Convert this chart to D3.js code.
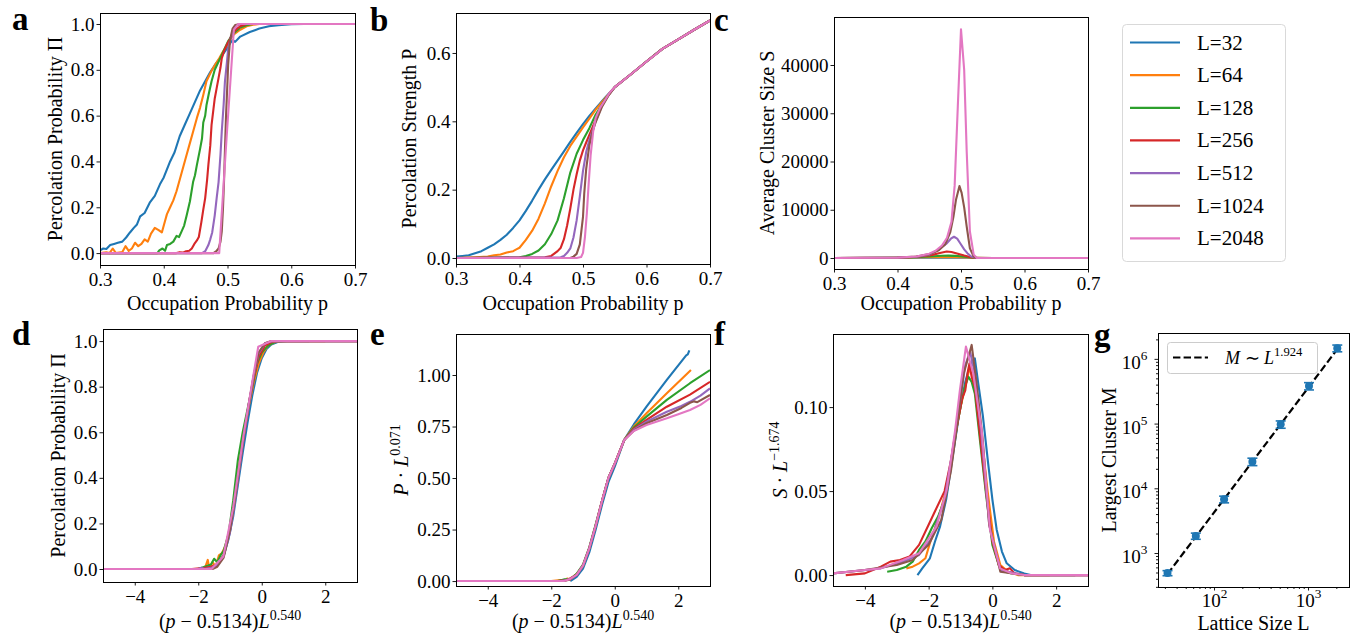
<!DOCTYPE html>
<html>
<head>
<meta charset="utf-8">
<script src="https://cdn.jsdelivr.net/npm/d3@7"></script>
<style>
  body { margin: 0; background: #fff; }
  svg { display: block; }
</style>
</head>
<body>
<svg id="fig" width="1353" height="637"></svg>
<script>
// ---------- series metadata ----------
const sizes = [32, 64, 128, 256, 512, 1024, 2048];
const colors = ["#1f77b4", "#ff7f0e", "#2ca02c", "#d62728", "#9467bd", "#8c564b", "#e377c2"];

// ---------- tick values ----------
const pTicks = [0.3, 0.4, 0.5, 0.6, 0.7];
const probTicks = [0, 0.2, 0.4, 0.6, 0.8, 1.0];
const strengthTicks = [0, 0.2, 0.4, 0.6];
const clusterTicks = [0, 10000, 20000, 30000, 40000];
const scaledXTicks = [-4, -2, 0, 2];
const scaledPTicks = [0, 0.25, 0.5, 0.75, 1.0];
const scaledSTicks = [0, 0.05, 0.10];
const latticeTicks = [100, 1000];
const largestTicks = [1e3, 1e4, 1e5, 1e6];

// ---------- (a) percolation probability Π(p) ----------
const percProb = [
  [[0.30,0.012],[0.305,0.02],[0.31,0.018],[0.316,0.035],[0.322,0.04],[0.328,0.045],[0.335,0.05],[0.341,0.068],[0.347,0.09],[0.353,0.11],[0.358,0.125],[0.363,0.16],[0.37,0.175],[0.378,0.22],[0.386,0.25],[0.394,0.3],[0.40,0.33],[0.41,0.4],[0.417,0.44],[0.425,0.51],[0.433,0.56],[0.441,0.61],[0.449,0.66],[0.457,0.71],[0.465,0.75],[0.473,0.79],[0.48,0.82],[0.488,0.85],[0.496,0.88],[0.504,0.915],[0.508,0.93],[0.512,0.922],[0.52,0.945],[0.535,0.965],[0.55,0.98],[0.565,0.99],[0.58,0.995],[0.6,0.999],[0.62,1.0],[0.7,1.0]],
  [[0.30,0.0],[0.31,0.003],[0.315,0.0],[0.32,0.02],[0.325,0.0],[0.335,0.005],[0.34,0.03],[0.345,0.01],[0.35,0.02],[0.355,0.045],[0.36,0.03],[0.365,0.04],[0.37,0.06],[0.375,0.05],[0.38,0.085],[0.386,0.11],[0.392,0.1],[0.397,0.09],[0.402,0.14],[0.405,0.17],[0.41,0.2],[0.415,0.23],[0.42,0.27],[0.426,0.33],[0.431,0.38],[0.436,0.43],[0.441,0.48],[0.446,0.53],[0.452,0.59],[0.457,0.635],[0.462,0.69],[0.467,0.75],[0.474,0.79],[0.48,0.82],[0.487,0.85],[0.493,0.88],[0.5,0.91],[0.505,0.935],[0.51,0.955],[0.52,0.975],[0.53,0.99],[0.54,0.997],[0.55,1.0],[0.7,1.0]],
  [[0.30,0.0],[0.39,0.0],[0.393,0.012],[0.398,0.02],[0.402,0.01],[0.405,0.035],[0.41,0.04],[0.415,0.05],[0.42,0.075],[0.424,0.07],[0.428,0.095],[0.432,0.12],[0.436,0.165],[0.441,0.225],[0.446,0.31],[0.449,0.34],[0.452,0.385],[0.457,0.455],[0.46,0.5],[0.462,0.57],[0.465,0.6],[0.467,0.645],[0.471,0.7],[0.475,0.75],[0.48,0.8],[0.485,0.83],[0.491,0.865],[0.496,0.895],[0.501,0.925],[0.51,0.96],[0.52,0.985],[0.53,0.995],[0.54,1.0],[0.7,1.0]],
  [[0.30,0.0],[0.42,0.0],[0.425,0.004],[0.43,0.002],[0.435,0.008],[0.44,0.01],[0.444,0.02],[0.448,0.04],[0.452,0.055],[0.455,0.07],[0.459,0.135],[0.462,0.19],[0.465,0.24],[0.468,0.32],[0.47,0.385],[0.473,0.47],[0.475,0.56],[0.478,0.63],[0.48,0.675],[0.483,0.72],[0.486,0.765],[0.489,0.81],[0.491,0.85],[0.495,0.885],[0.499,0.91],[0.505,0.94],[0.51,0.965],[0.515,0.98],[0.52,0.99],[0.53,1.0],[0.7,1.0]],
  [[0.30,0.0],[0.46,0.0],[0.465,0.008],[0.47,0.035],[0.473,0.06],[0.476,0.09],[0.48,0.165],[0.483,0.24],[0.486,0.31],[0.489,0.43],[0.491,0.53],[0.494,0.65],[0.496,0.75],[0.499,0.83],[0.501,0.89],[0.505,0.94],[0.51,0.975],[0.515,0.995],[0.52,1.0],[0.7,1.0]],
  [[0.30,0.0],[0.478,0.0],[0.483,0.01],[0.486,0.02],[0.489,0.05],[0.491,0.095],[0.493,0.2],[0.4945,0.31],[0.496,0.45],[0.4977,0.6],[0.5,0.75],[0.501,0.82],[0.504,0.93],[0.508,0.98],[0.512,0.995],[0.52,1.0],[0.7,1.0]],
  [[0.30,0.0],[0.48,0.0],[0.487,0.0],[0.4985,0.5],[0.51,0.975],[0.517,1.0],[0.7,1.0]]
];

// ---------- (b) percolation strength P(p) ----------
const percStrength = [
  [[0.30,0.004],[0.31,0.006],[0.32,0.008],[0.33,0.014],[0.34,0.02],[0.35,0.03],[0.36,0.04],[0.37,0.053],[0.38,0.068],[0.39,0.088],[0.40,0.11],[0.41,0.138],[0.42,0.168],[0.43,0.2],[0.44,0.23],[0.45,0.258],[0.46,0.285],[0.47,0.312],[0.48,0.34],[0.49,0.366],[0.50,0.392],[0.51,0.416],[0.52,0.438],[0.535,0.47],[0.55,0.5],[0.575,0.537],[0.6,0.575],[0.625,0.612],[0.65,0.64],[0.675,0.668],[0.7,0.695]],
  [[0.30,0.0],[0.33,0.002],[0.35,0.004],[0.36,0.008],[0.37,0.01],[0.38,0.016],[0.39,0.02],[0.395,0.025],[0.40,0.03],[0.41,0.053],[0.42,0.08],[0.43,0.115],[0.44,0.16],[0.45,0.21],[0.46,0.255],[0.47,0.295],[0.48,0.328],[0.49,0.355],[0.50,0.382],[0.51,0.408],[0.52,0.434],[0.535,0.468],[0.55,0.5],[0.575,0.537],[0.6,0.575],[0.625,0.612],[0.65,0.64],[0.675,0.668],[0.7,0.695]],
  [[0.30,0.0],[0.40,0.002],[0.41,0.006],[0.42,0.012],[0.43,0.022],[0.44,0.04],[0.45,0.07],[0.46,0.11],[0.47,0.175],[0.48,0.25],[0.49,0.305],[0.50,0.345],[0.51,0.38],[0.52,0.42],[0.535,0.465],[0.55,0.5],[0.575,0.537],[0.6,0.575],[0.625,0.612],[0.65,0.64],[0.675,0.668],[0.7,0.695]],
  [[0.30,0.0],[0.44,0.002],[0.45,0.006],[0.46,0.02],[0.465,0.03],[0.47,0.055],[0.475,0.095],[0.48,0.145],[0.485,0.2],[0.49,0.245],[0.495,0.285],[0.50,0.315],[0.505,0.338],[0.51,0.36],[0.52,0.405],[0.53,0.448],[0.54,0.477],[0.55,0.5],[0.575,0.537],[0.6,0.575],[0.625,0.612],[0.65,0.64],[0.675,0.668],[0.7,0.695]],
  [[0.30,0.0],[0.465,0.002],[0.47,0.006],[0.475,0.015],[0.48,0.028],[0.485,0.06],[0.49,0.11],[0.495,0.18],[0.50,0.255],[0.505,0.31],[0.51,0.345],[0.52,0.4],[0.53,0.447],[0.54,0.477],[0.55,0.5],[0.575,0.537],[0.6,0.575],[0.625,0.612],[0.65,0.64],[0.675,0.668],[0.7,0.695]],
  [[0.30,0.0],[0.48,0.0],[0.485,0.004],[0.49,0.012],[0.495,0.04],[0.50,0.12],[0.502,0.19],[0.505,0.26],[0.51,0.33],[0.515,0.37],[0.52,0.398],[0.53,0.443],[0.54,0.475],[0.55,0.5],[0.575,0.537],[0.6,0.575],[0.625,0.612],[0.65,0.64],[0.675,0.668],[0.7,0.695]],
  [[0.30,0.0],[0.49,0.0],[0.497,0.003],[0.5,0.015],[0.503,0.06],[0.506,0.13],[0.509,0.22],[0.512,0.3],[0.516,0.37],[0.52,0.41],[0.527,0.44],[0.535,0.463],[0.5425,0.485],[0.55,0.5],[0.575,0.537],[0.6,0.575],[0.612,0.592],[0.625,0.612],[0.65,0.64],[0.675,0.668],[0.7,0.695]]
];

// ---------- (c) average cluster size S(p) ----------
const avgCluster = [
  [[0.3,0],[0.35,10],[0.4,40],[0.43,60],[0.46,80],[0.49,80],[0.52,40],[0.55,10],[0.6,0],[0.7,0]],
  [[0.3,0],[0.38,30],[0.42,90],[0.45,160],[0.47,200],[0.49,170],[0.51,90],[0.53,20],[0.55,0],[0.7,0]],
  [[0.3,0],[0.4,50],[0.43,150],[0.45,300],[0.47,480],[0.48,500],[0.49,450],[0.505,280],[0.52,60],[0.53,0],[0.7,0]],
  [[0.3,0],[0.4,60],[0.42,150],[0.44,350],[0.455,650],[0.465,1000],[0.4775,1350],[0.485,1250],[0.495,900],[0.505,500],[0.515,150],[0.525,0],[0.7,0]],
  [[0.3,0],[0.4,70],[0.43,250],[0.45,700],[0.462,1500],[0.47,2300],[0.478,3100],[0.484,4000],[0.489,4400],[0.494,4000],[0.499,3000],[0.505,1800],[0.51,1000],[0.516,300],[0.525,0],[0.7,0]],
  [[0.3,0],[0.4,80],[0.43,300],[0.45,800],[0.465,1600],[0.475,2800],[0.483,5300],[0.488,8500],[0.492,12000],[0.4976,14900],[0.501,13500],[0.505,10500],[0.509,6500],[0.514,2000],[0.52,300],[0.525,0],[0.7,0]],
  [[0.3,0],[0.4,80],[0.43,300],[0.45,900],[0.46,1500],[0.47,2600],[0.478,4200],[0.485,7500],[0.49,15000],[0.495,31500],[0.5,47400],[0.505,39000],[0.509,22000],[0.514,5500],[0.52,700],[0.525,0],[0.7,0]]
];

// ---------- (d) collapsed Π ----------
const collapseProb = [
  [[-2.0,0],[-1.6,0.002],[-1.5,0.01],[-1.35,0.03],[-1.2,0.06],[-1.05,0.13],[-0.9,0.23],[-0.75,0.37],[-0.6,0.51],[-0.45,0.64],[-0.3,0.76],[-0.15,0.86],[0,0.925],[0.15,0.965],[0.3,0.985],[0.5,0.996],[0.7,1.0],[1.5,1.0]],
  [[-2.0,0],[-1.8,0.0],[-1.7,0.04],[-1.65,0.0],[-1.55,0.03],[-1.45,0.01],[-1.35,0.06],[-1.25,0.07],[-1.15,0.1],[-1.0,0.18],[-0.85,0.33],[-0.7,0.47],[-0.55,0.6],[-0.4,0.72],[-0.25,0.82],[-0.1,0.9],[0.05,0.95],[0.2,0.98],[0.4,0.995],[0.6,1.0],[2.0,1.0]],
  [[-3.0,0],[-2.0,0.0],[-1.8,0.01],[-1.6,0.02],[-1.5,0.045],[-1.4,0.03],[-1.3,0.06],[-1.2,0.08],[-1.05,0.15],[-0.9,0.3],[-0.75,0.48],[-0.6,0.6],[-0.45,0.7],[-0.3,0.8],[-0.15,0.9],[0,0.95],[0.2,0.98],[0.4,0.995],[0.8,1.0],[3,1.0]],
  [[-4.0,0],[-2.2,0],[-1.8,0.005],[-1.6,0.01],[-1.4,0.02],[-1.2,0.06],[-1.0,0.17],[-0.85,0.3],[-0.7,0.45],[-0.55,0.6],[-0.4,0.73],[-0.25,0.84],[-0.1,0.93],[0.1,0.98],[0.3,0.995],[0.6,1.0],[3,1.0]],
  [[-5,0],[-2.0,0],[-1.9,0.006],[-1.8,0.0],[-1.6,0.005],[-1.4,0.015],[-1.2,0.055],[-1.0,0.16],[-0.85,0.29],[-0.7,0.44],[-0.55,0.6],[-0.4,0.73],[-0.25,0.85],[-0.1,0.945],[0.1,0.99],[0.35,1.0],[3,1.0]],
  [[-5,0],[-1.55,0],[-1.4,0.01],[-1.2,0.05],[-1.0,0.17],[-0.85,0.3],[-0.7,0.45],[-0.55,0.6],[-0.4,0.73],[-0.25,0.85],[-0.1,0.95],[0.1,0.99],[0.3,1.0],[3,1.0]],
  [[-5,0],[-1.58,0],[-1.21,0.055],[-0.9,0.27],[-0.58,0.58],[-0.27,0.845],[-0.11,0.975],[0.3,1.0],[3,1.0]]
];

// ---------- (e) collapsed P ----------
const collapseStrength = [
  [[-1.4,0],[-1.2,0.02],[-1.0,0.06],[-0.8,0.14],[-0.6,0.25],[-0.4,0.37],[-0.2,0.48],[0,0.555],[0.3,0.685],[0.6,0.76],[1.0,0.846],[1.64,0.976],[2.25,1.095],[2.3,1.1],[2.35,1.12]],
  [[-2.0,0],[-1.7,0.005],[-1.6,0.0],[-1.5,0.012],[-1.4,0.008],[-1.2,0.035],[-1.0,0.075],[-0.8,0.16],[-0.6,0.27],[-0.4,0.39],[-0.2,0.5],[0,0.57],[0.3,0.685],[0.6,0.75],[1.0,0.814],[1.64,0.911],[2.40,1.024]],
  [[-3.0,0],[-1.8,0.0],[-1.6,0.008],[-1.4,0.01],[-1.2,0.035],[-1.0,0.08],[-0.8,0.165],[-0.6,0.275],[-0.4,0.39],[-0.2,0.5],[0,0.57],[0.3,0.685],[0.6,0.745],[1.0,0.798],[1.64,0.879],[2.37,0.96],[3.0,1.024]],
  [[-4.5,0],[-1.8,0.0],[-1.5,0.005],[-1.2,0.03],[-1.0,0.075],[-0.8,0.16],[-0.6,0.27],[-0.4,0.39],[-0.2,0.5],[0,0.57],[0.3,0.685],[0.6,0.74],[1.0,0.782],[1.64,0.846],[2.37,0.905],[3.0,0.967]],
  [[-5,0],[-1.7,0],[-1.4,0.008],[-1.2,0.03],[-1.0,0.075],[-0.8,0.16],[-0.6,0.27],[-0.4,0.39],[-0.2,0.5],[0,0.57],[0.3,0.685],[0.6,0.735],[1.0,0.774],[1.64,0.822],[2.1,0.85],[2.37,0.87],[2.7,0.9],[3.0,0.935]],
  [[-5,0],[-1.6,0],[-1.4,0.008],[-1.2,0.03],[-1.0,0.075],[-0.8,0.16],[-0.6,0.27],[-0.4,0.39],[-0.2,0.5],[0,0.57],[0.3,0.685],[0.6,0.73],[1.0,0.766],[1.64,0.806],[2.1,0.84],[2.37,0.865],[2.5,0.872],[2.6,0.868],[3.0,0.903]],
  [[-5,0],[-1.6,0],[-1.4,0.01],[-1.2,0.03],[-1.0,0.075],[-0.8,0.16],[-0.6,0.27],[-0.4,0.39],[-0.2,0.5],[0,0.57],[0.3,0.685],[0.6,0.728],[1.0,0.757],[1.64,0.79],[2.0,0.81],[2.37,0.83],[2.7,0.855],[3.0,0.887]]
];

// ---------- (f) collapsed S ----------
const collapseCluster = [
  [[-2.35,0.0],[-2.2,0.004],[-1.96,0.01],[-1.8,0.02],[-1.64,0.029],[-1.45,0.045],[-1.25,0.07],[-1.05,0.095],[-0.85,0.115],[-0.7,0.125],[-0.55,0.129],[-0.45,0.115],[-0.3,0.095],[-0.13,0.066],[0.0,0.045],[0.135,0.027],[0.3,0.014],[0.45,0.007],[0.7,0.003],[1.0,0.001],[1.2,0]],
  [[-2.7,0.004],[-2.5,0.005],[-2.3,0.007],[-2.1,0.01],[-1.96,0.019],[-1.8,0.028],[-1.6,0.04],[-1.4,0.055],[-1.2,0.08],[-1.0,0.1],[-0.85,0.112],[-0.72,0.123],[-0.62,0.118],[-0.5,0.106],[-0.35,0.085],[-0.15,0.05],[0.05,0.02],[0.25,0.006],[0.5,0.002],[0.8,0],[1.8,0]],
  [[-3.3,0.002],[-3.0,0.003],[-2.7,0.005],[-2.5,0.008],[-2.3,0.015],[-2.1,0.02],[-1.9,0.028],[-1.7,0.035],[-1.5,0.045],[-1.3,0.065],[-1.1,0.09],[-0.95,0.105],[-0.85,0.113],[-0.75,0.118],[-0.65,0.115],[-0.55,0.108],[-0.4,0.082],[-0.2,0.048],[0,0.018],[0.2,0.006],[0.4,0.002],[0.6,0.001],[1,0],[2.6,0]],
  [[-4.6,0.0],[-4.0,0.001],[-3.5,0.005],[-3.2,0.008],[-2.9,0.009],[-2.6,0.011],[-2.3,0.018],[-2.0,0.03],[-1.8,0.038],[-1.5,0.05],[-1.3,0.068],[-1.1,0.09],[-0.95,0.105],[-0.85,0.11],[-0.78,0.12],[-0.72,0.126],[-0.65,0.118],[-0.55,0.112],[-0.4,0.085],[-0.2,0.05],[0,0.02],[0.2,0.006],[0.4,0.003],[0.55,0.004],[0.7,0.001],[1,0],[3,0]],
  [[-5,0.001],[-4.5,0.002],[-3.5,0.004],[-2.8,0.008],[-2.3,0.012],[-1.9,0.022],[-1.5,0.045],[-1.2,0.08],[-1.0,0.105],[-0.85,0.125],[-0.7,0.133],[-0.55,0.12],[-0.35,0.085],[-0.1,0.03],[0.25,0.003],[1,0],[3,0]],
  [[-5,0.001],[-4,0.003],[-3,0.006],[-2.5,0.009],[-2.0,0.018],[-1.6,0.033],[-1.3,0.062],[-1.1,0.09],[-0.9,0.12],[-0.78,0.128],[-0.65,0.137],[-0.5,0.115],[-0.3,0.08],[-0.1,0.03],[0.25,0.002],[1,0],[3,0]],
  [[-5,0.001],[-4,0.003],[-3.5,0.004],[-2.8,0.009],[-2.3,0.013],[-1.75,0.029],[-1.43,0.051],[-1.17,0.086],[-1.02,0.11],[-0.83,0.136],[-0.6,0.12],[-0.335,0.086],[-0.075,0.027],[0.24,0.004],[0.6,0.001],[1.0,0.0],[3,0]]
];

// ---------- (g) largest cluster vs lattice size ----------
const largestCluster = [490, 1830, 6760, 25800, 97300, 380000, 1460000];
const largestClusterErr = [44, 200, 800, 3400, 12600, 49000, 175000];
const fitExponent = 1.924;
const fitPrefactor = 0.6;

// ---------- drawing ----------
const FONT = "'Liberation Serif', 'Times New Roman', serif";
const TICK_FS = 19;
const LABEL_FS = 20;
const svg = d3.select("#fig");
const defs = svg.append("defs");

function styleAxis(a, fs) {
  a.attr("font-family", FONT).attr("font-size", fs || TICK_FS);
  a.select(".domain").remove();
  a.selectAll(".tick line").attr("stroke", "#000").attr("stroke-width", 0.9);
  a.selectAll(".tick text").attr("fill", "#000");
}

function panel(o) {
  const x = (o.xLog ? d3.scaleLog() : d3.scaleLinear()).domain(o.xDomain).range([o.left, o.right]);
  const y = (o.yLog ? d3.scaleLog() : d3.scaleLinear()).domain(o.yDomain).range([o.bottom, o.top]);
  const g = svg.append("g");
  const cid = "clip-" + o.id;
  defs.append("clipPath").attr("id", cid).append("rect")
    .attr("x", o.left).attr("y", o.top).attr("width", o.right - o.left).attr("height", o.bottom - o.top);
  const plot = g.append("g").attr("clip-path", `url(#${cid})`);
  return { g, x, y, plot, o };
}

function linearAxes(p, xTicks, xFmt, yTicks, yFmt) {
  const o = p.o;
  const xa = p.g.append("g").attr("transform", `translate(0,${o.bottom})`)
    .call(d3.axisBottom(p.x).tickValues(xTicks).tickFormat(xFmt).tickSize(3.5).tickPadding(4.5).tickSizeOuter(0));
  styleAxis(xa);
  const ya = p.g.append("g").attr("transform", `translate(${o.left},0)`)
    .call(d3.axisLeft(p.y).tickValues(yTicks).tickFormat(yFmt).tickSize(3.5).tickPadding(2).tickSizeOuter(0));
  styleAxis(ya);
}

function frame(p) {
  const o = p.o;
  p.g.append("rect").attr("x", o.left).attr("y", o.top)
    .attr("width", o.right - o.left).attr("height", o.bottom - o.top)
    .attr("fill", "none").attr("stroke", "#000").attr("stroke-width", 1)
    .attr("shape-rendering", "crispEdges");
}

function drawSeries(p, data) {
  const line = d3.line().x(d => p.x(d[0])).y(d => p.y(d[1]));
  p.plot.selectAll("path.series").data(data).join("path")
    .attr("class", "series")
    .attr("d", line)
    .attr("fill", "none")
    .attr("stroke", (d, i) => colors[i])
    .attr("stroke-width", 2.1)
    .attr("stroke-linejoin", "round")
    .attr("stroke-linecap", "butt");
}

// rich text: parts = [text, style] with style "i" (italic) or "sup"
function richText(t, parts, fs) {
  let raised = false;
  parts.forEach(([s, st]) => {
    const ts = t.append("tspan").text(s);
    if (st === "i") ts.attr("font-style", "italic");
    if (st === "sup") {
      ts.attr("font-size", fs * 0.7).attr("dy", -fs * 0.42);
      raised = true;
    } else if (raised) {
      ts.attr("dy", fs * 0.42);
      raised = false;
    }
  });
  return t;
}

function xLabel(cx, base, parts, fs) {
  const t = svg.append("text").attr("x", cx).attr("y", base)
    .attr("text-anchor", "middle").attr("font-family", FONT)
    .attr("font-size", fs || LABEL_FS).attr("fill", "#000");
  richText(t, parts, fs || LABEL_FS);
}

function yLabel(bx, cy, parts, fs) {
  const t = svg.append("text").attr("transform", `translate(${bx},${cy}) rotate(-90)`)
    .attr("text-anchor", "middle").attr("font-family", FONT)
    .attr("font-size", fs || LABEL_FS).attr("fill", "#000");
  richText(t, parts, fs || LABEL_FS);
}

function panelLetter(x, y, s) {
  svg.append("text").attr("x", x).attr("y", y).attr("font-family", FONT)
    .attr("font-size", 33).attr("font-weight", "bold").attr("fill", "#000").text(s);
}

const minus = v => (v < 0 ? "\u2212" + Math.abs(v) : String(v));
const fmt1 = d3.format(".1f");
const fmt2 = d3.format(".2f");
const fmtScaledX = v => minus(v);

// ----- (a) -----
const pa = panel({ id: "a", left: 100, right: 355, top: 13, bottom: 265, xDomain: [0.3, 0.7], yDomain: [-0.052, 1.048] });
drawSeries(pa, percProb);
linearAxes(pa, pTicks, fmt1, probTicks, fmt1);
frame(pa);

// ----- (b) -----
const pb = panel({ id: "b", left: 456, right: 710, top: 13, bottom: 264, xDomain: [0.3, 0.7], yDomain: [-0.0176, 0.717] });
drawSeries(pb, percStrength);
linearAxes(pb, pTicks, fmt1, strengthTicks, fmt1);
frame(pb);

// ----- (c) -----
const pc = panel({ id: "c", left: 834, right: 1088, top: 17, bottom: 269, xDomain: [0.3, 0.7], yDomain: [-2280, 49950] });
drawSeries(pc, avgCluster);
linearAxes(pc, pTicks, fmt1, clusterTicks, d3.format("d"));
frame(pc);

// ----- (d) -----
const pd = panel({ id: "d", left: 103, right: 357, top: 329, bottom: 582, xDomain: [-5, 3], yDomain: [-0.057, 1.053] });
drawSeries(pd, collapseProb);
linearAxes(pd, scaledXTicks, fmtScaledX, probTicks, fmt1);
frame(pd);

// ----- (e) -----
const pe = panel({ id: "e", left: 456, right: 710, top: 334, bottom: 586, xDomain: [-5, 3], yDomain: [-0.024, 1.199] });
drawSeries(pe, collapseStrength);
linearAxes(pe, scaledXTicks, fmtScaledX, scaledPTicks, fmt2);
frame(pe);

// ----- (f) -----
const pf = panel({ id: "f", left: 833, right: 1088, top: 334, bottom: 586, xDomain: [-5, 3], yDomain: [-0.0065, 0.1435] });
drawSeries(pf, collapseCluster);
linearAxes(pf, scaledXTicks, fmtScaledX, scaledSTicks, fmt2);
frame(pf);

// ----- (g) -----
const pg = panel({ id: "g", left: 1158, right: 1349, top: 333, bottom: 587, xLog: true, yLog: true,
  xDomain: [25.35, 2729], yDomain: [298.5, 2.51e6] });

function logMinor(domain) {
  const out = [];
  const lo = Math.floor(Math.log10(domain[0])), hi = Math.ceil(Math.log10(domain[1]));
  for (let e = lo; e <= hi; e++) for (let m = 2; m <= 9; m++) {
    const v = m * Math.pow(10, e);
    if (v >= domain[0] && v <= domain[1]) out.push(v);
  }
  return out;
}
function powLabel(sel, fs) {
  sel.selectAll(".tick text").each(function (d) {
    const t = d3.select(this).text(null);
    t.append("tspan").text("10");
    t.append("tspan").attr("font-size", fs * 0.7).attr("dy", -fs * 0.45).text(Math.round(Math.log10(d)));
  });
}
{
  const o = pg.o;
  const xMinor = pg.g.append("g").attr("transform", `translate(0,${o.bottom})`)
    .call(d3.axisBottom(pg.x).tickValues(logMinor(o.xDomain)).tickFormat("").tickSize(2).tickSizeOuter(0));
  styleAxis(xMinor);
  const yMinor = pg.g.append("g").attr("transform", `translate(${o.left},0)`)
    .call(d3.axisLeft(pg.y).tickValues(logMinor(o.yDomain)).tickFormat("").tickSize(2).tickSizeOuter(0));
  styleAxis(yMinor);
  const xa = pg.g.append("g").attr("transform", `translate(0,${o.bottom})`)
    .call(d3.axisBottom(pg.x).tickValues(latticeTicks).tickFormat(d => d).tickSize(3.5).tickPadding(3).tickSizeOuter(0));
  styleAxis(xa);
  powLabel(xa, TICK_FS);
  const ya = pg.g.append("g").attr("transform", `translate(${o.left},0)`)
    .call(d3.axisLeft(pg.y).tickValues(largestTicks).tickFormat(d => d).tickSize(3.5).tickPadding(7).tickSizeOuter(0));
  styleAxis(ya);
  ya.selectAll(".tick text").attr("dy", "0.5em");
  powLabel(ya, TICK_FS);
}
// fit line M = A L^1.924
const fitEnds = [sizes[0], sizes[sizes.length - 1]].map(L => [L, fitPrefactor * Math.pow(L, fitExponent)]);
pg.plot.append("path")
  .attr("d", d3.line().x(d => pg.x(d[0])).y(d => pg.y(d[1]))(fitEnds))
  .attr("fill", "none").attr("stroke", "#000").attr("stroke-width", 2.2).attr("stroke-dasharray", "7.4,3.2");
// error bars with caps
const gEb = pg.plot.append("g").attr("stroke", colors[0]).attr("stroke-width", 1.6);
sizes.forEach((L, i) => {
  const cx = pg.x(L), lo = pg.y(largestCluster[i] - largestClusterErr[i]), hi = pg.y(largestCluster[i] + largestClusterErr[i]);
  gEb.append("line").attr("x1", cx).attr("x2", cx).attr("y1", lo).attr("y2", hi);
  gEb.append("line").attr("x1", cx - 5).attr("x2", cx + 5).attr("y1", lo).attr("y2", lo);
  gEb.append("line").attr("x1", cx - 5).attr("x2", cx + 5).attr("y1", hi).attr("y2", hi);
});
pg.plot.selectAll("circle.pt").data(sizes).join("circle")
  .attr("class", "pt")
  .attr("cx", d => pg.x(d)).attr("cy", (d, i) => pg.y(largestCluster[i]))
  .attr("r", 4).attr("fill", colors[0]);
frame(pg);

// legend inside (g)
{
  const lg = svg.append("g");
  lg.append("rect").attr("x", 1167.5).attr("y", 342.5).attr("width", 150).attr("height", 31).attr("rx", 3)
    .attr("fill", "#fff").attr("fill-opacity", 0.8).attr("stroke", "#cccccc").attr("stroke-width", 1);
  lg.append("line").attr("x1", 1173).attr("x2", 1208).attr("y1", 357.5).attr("y2", 357.5)
    .attr("stroke", "#000").attr("stroke-width", 2.2).attr("stroke-dasharray", "7.4,3.2");
  const t = lg.append("text").attr("x", 1225).attr("y", 364).attr("font-family", FONT)
    .attr("font-size", 18).attr("fill", "#000");
  richText(t, [["M", "i"], [" \u223C "], ["L", "i"], [String(fitExponent), "sup"]], 18);
}

// ----- shared legend -----
{
  const lg = svg.append("g");
  lg.append("rect").attr("x", 1122.5).attr("y", 24.5).attr("width", 163).attr("height", 237).attr("rx", 4)
    .attr("fill", "#fff").attr("stroke", "#d9d9d9").attr("stroke-width", 1);
  sizes.forEach((L, i) => {
    const yy = 42.5 + i * 32.65;
    lg.append("line").attr("x1", 1130).attr("x2", 1180).attr("y1", yy).attr("y2", yy)
      .attr("stroke", colors[i]).attr("stroke-width", 2.2);
    lg.append("text").attr("x", 1197).attr("y", yy + 7).attr("font-family", FONT)
      .attr("font-size", 21).attr("fill", "#000").text("L=" + L);
  });
}

// ----- axis labels -----
const occLabel = [["Occupation Probability p"]];
xLabel(227.5, 310, occLabel);
xLabel(583, 310, occLabel);
xLabel(961, 310, occLabel);
const scaledLabel = [["("], ["p", "i"], [" \u2212 0.5134)"], ["L", "i"], ["0.540", "sup"]];
xLabel(230, 628, scaledLabel);
xLabel(583, 628, scaledLabel);
xLabel(960.5, 628, scaledLabel);
xLabel(1253.5, 630, [["Lattice Size L"]]);

yLabel(62, 139, [["Percolation Probability \u03A0"]]);
yLabel(416, 138.5, [["Percolation Strength P"]]);
yLabel(774, 143, [["Average Cluster Size S"]]);
yLabel(65, 455.5, [["Percolation Probability \u03A0"]]);
yLabel(408, 460, [["P", "i"], [" \u00B7 "], ["L", "i"], ["0.071", "sup"]]);
yLabel(787, 460, [["S", "i"], [" \u00B7 "], ["L", "i"], ["\u22121.674", "sup"]]);
yLabel(1116, 460, [["Largest Cluster M"]]);

// ----- panel letters -----
panelLetter(12, 30, "a");
panelLetter(370, 31, "b");
panelLetter(714, 31, "c");
panelLetter(12, 345, "d");
panelLetter(370, 345, "e");
panelLetter(714, 345, "f");
panelLetter(1094, 346, "g");
</script>
</body>
</html>
